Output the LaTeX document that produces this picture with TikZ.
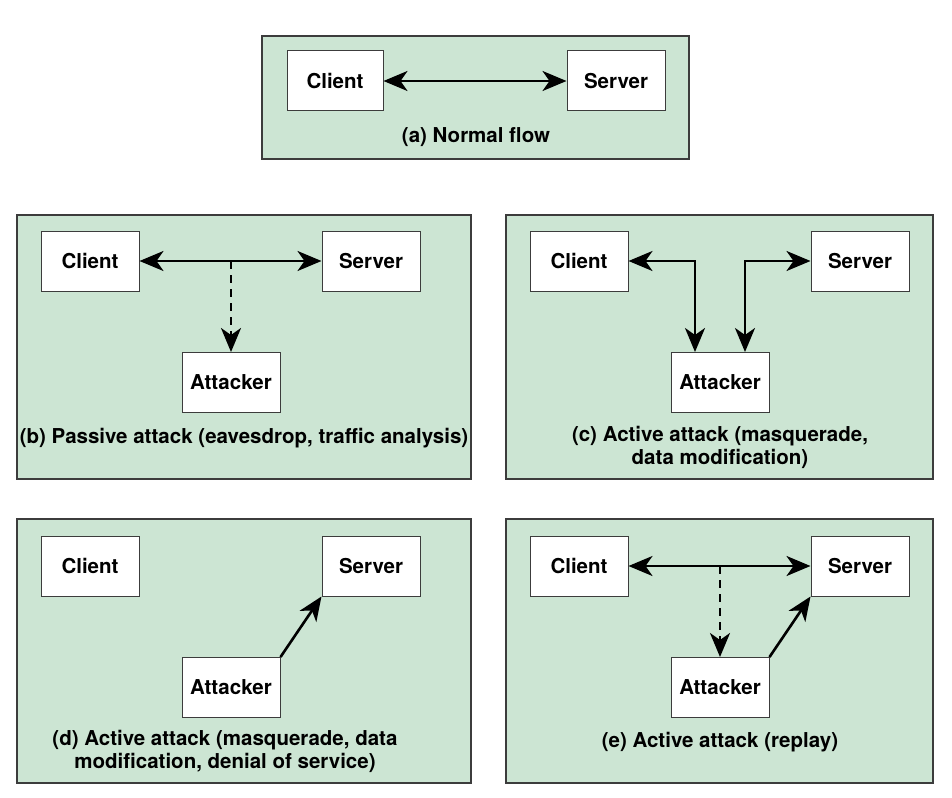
\documentclass[tikz,border=0pt]{standalone}
\usepackage{fontspec}
\setmainfont{TeX Gyre Heros}
\usetikzlibrary{arrows.meta}
\definecolor{panelgreen}{RGB}{204,229,211}
\definecolor{edgegray}{RGB}{60,60,60}
\begin{document}
\begin{tikzpicture}[x=1pt,y=-1pt,
  font=\fontsize{20.5}{23}\selectfont\bfseries,
  panel/.style={draw=edgegray,line width=1.2pt,fill=panelgreen},
  hostbox/.style={draw=edgegray,line width=1pt,fill=white,minimum width=98pt,minimum height=60pt,inner sep=0pt},
  caption/.style={align=center,inner sep=0pt},
  conn/.style={line width=2.6pt,black,-{Stealth[length=24pt,width=20pt,inset=7pt]}},
  bconn/.style={line width=2.6pt,black,{Stealth[length=24pt,width=20pt,inset=7pt]}-{Stealth[length=24pt,width=20pt,inset=7pt]}},
  tap/.style={conn,dash pattern=on 8pt off 6pt}]
\useasboundingbox (0,0) rectangle (952,797);
% panels
\draw[panel] (262,36) rectangle (689,159);
\draw[panel] (17,215) rectangle (471,479);
\draw[panel] (506,215) rectangle (933,479);
\draw[panel] (17,519) rectangle (471,783);
\draw[panel] (506,519) rectangle (933,783);
% (a)
\node[hostbox,minimum width=96pt] (a-cl) at (335,81) {Client};
\node[hostbox] (a-sv) at (616,81) {Server};
\node[caption] (a-lb) at (476,137) {(a) Normal flow};
\draw[bconn] (a-cl) -- (a-sv);
% (b)
\node[hostbox] (b-cl) at (90,261) {Client};
\node[hostbox] (b-sv) at (371,261) {Server};
\node[hostbox] (b-at) at (231,382.5) {Attacker};
\node[caption] (b-lb) at (244,438) {(b) Passive attack (eavesdrop, traffic analysis)};
\coordinate (b-tap) at (231,261);
\draw[bconn] (b-cl) -- (b-sv);
\draw[tap] (b-tap) -- (b-at.north);
% (c)
\node[hostbox] (c-cl) at (579,261) {Client};
\node[hostbox] (c-sv) at (860,261) {Server};
\node[hostbox] (c-at) at (720,382.5) {Attacker};
\node[caption] (c-lb) at (720,447) {(c) Active attack (masquerade,\\data modification)};
\draw[bconn] (c-cl.east) -| ([xshift=-25pt]c-at.north);
\draw[bconn] (c-sv.west) -| ([xshift=25pt]c-at.north);
% (d)
\node[hostbox] (d-cl) at (90,566) {Client};
\node[hostbox] (d-sv) at (371,566) {Server};
\node[hostbox] (d-at) at (231,687.5) {Attacker};
\node[caption] (d-lb) at (225,751.5) {(d) Active attack (masquerade, data\\modification, denial of service)};
\draw[conn] (d-at.north east) -- (d-sv.south west);
% (e)
\node[hostbox] (e-cl) at (579,566) {Client};
\node[hostbox] (e-sv) at (860,566) {Server};
\node[hostbox] (e-at) at (720,687.5) {Attacker};
\node[caption] (e-lb) at (720,742) {(e) Active attack (replay)};
\coordinate (e-tap) at (720,566);
\draw[bconn] (e-cl) -- (e-sv);
\draw[tap] (e-tap) -- (e-at.north);
\draw[conn] (e-at.north east) -- (e-sv.south west);
\end{tikzpicture}
\end{document}
